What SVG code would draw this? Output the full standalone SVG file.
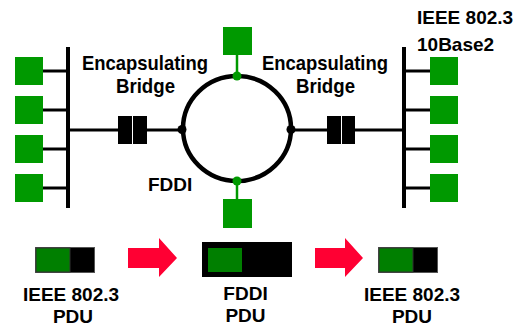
<svg xmlns="http://www.w3.org/2000/svg" width="525" height="326" viewBox="0 0 525 326">
<style>
.t{font-family:"Liberation Sans",Arial,sans-serif;font-weight:bold;font-size:19px;fill:#000}
.e{font-size:20.5px}
.m{text-anchor:middle}
.sq{fill:#009900}
.ln{stroke:#000;stroke-width:3;fill:none}
.bus{stroke:#000;stroke-width:4;fill:none}
.gs{stroke:#009900;stroke-width:2.5}
.br{fill:#000}
.pg{fill:#007f00;stroke:#333;stroke-width:1}
.ar{fill:#ff0033}
</style>
<rect width="525" height="326" fill="#fff"/>
<g id="connectors">
  <line class="bus" x1="68" y1="47" x2="68" y2="208"/>
  <line class="bus" x1="404" y1="47" x2="404" y2="208"/>
  <line class="ln" x1="43" y1="71" x2="68" y2="71"/>
  <line class="ln" x1="43" y1="110" x2="68" y2="110"/>
  <line class="ln" x1="43" y1="149" x2="68" y2="149"/>
  <line class="ln" x1="43" y1="188" x2="68" y2="188"/>
  <line class="ln" x1="404" y1="71" x2="430" y2="71"/>
  <line class="ln" x1="404" y1="110" x2="430" y2="110"/>
  <line class="ln" x1="404" y1="149" x2="430" y2="149"/>
  <line class="ln" x1="404" y1="188" x2="430" y2="188"/>
  <line class="ln" x1="68" y1="130" x2="118" y2="130"/>
  <line class="ln" x1="147" y1="130" x2="182" y2="130"/>
  <line class="ln" x1="291" y1="130" x2="327" y2="130"/>
  <line class="ln" x1="355" y1="130" x2="404" y2="130"/>
  <line class="gs" x1="237" y1="55" x2="237" y2="76"/>
  <line class="gs" x1="237" y1="181" x2="237" y2="199"/>
</g>
<g id="ring">
  <ellipse cx="237" cy="128.5" rx="54" ry="52.5" fill="none" stroke="#000" stroke-width="4.5"/>
  <circle cx="182" cy="129.5" r="4.5" fill="#000"/>
  <circle cx="291" cy="129.5" r="4.5" fill="#000"/>
  <circle cx="237" cy="76" r="4.5" fill="#009900"/>
  <circle cx="237" cy="181" r="4.5" fill="#009900"/>
  <text class="t" x="148" y="191">FDDI</text>
</g>
<g id="left-lan">
  <rect class="sq" x="15" y="57" width="28" height="28"/>
  <rect class="sq" x="15" y="96" width="28" height="28"/>
  <rect class="sq" x="15" y="135" width="28" height="28"/>
  <rect class="sq" x="15" y="174" width="28" height="28"/>
</g>
<g id="right-lan">
  <rect class="sq" x="430" y="57" width="28" height="28"/>
  <rect class="sq" x="430" y="96" width="28" height="28"/>
  <rect class="sq" x="430" y="135" width="28" height="28"/>
  <rect class="sq" x="430" y="174" width="28" height="28"/>
  <text class="t" x="417" y="23.5">IEEE 802.3</text>
  <text class="t" x="417" y="50.5">10Base2</text>
</g>
<g id="top-station"><rect class="sq" x="223" y="27" width="29" height="28"/></g>
<g id="bottom-station"><rect class="sq" x="223" y="199" width="29" height="29"/></g>
<g id="left-bridge">
  <rect class="br" x="118" y="116" width="14" height="28"/>
  <rect class="br" x="133" y="116" width="14" height="28"/>
  <text class="t e m" x="145" y="70" textLength="126" lengthAdjust="spacingAndGlyphs">Encapsulating</text>
  <text class="t e m" x="145.5" y="92.5" textLength="59" lengthAdjust="spacingAndGlyphs">Bridge</text>
</g>
<g id="right-bridge">
  <rect class="br" x="327" y="116" width="14" height="28"/>
  <rect class="br" x="342" y="116" width="13" height="28"/>
  <text class="t e m" x="325" y="70" textLength="126" lengthAdjust="spacingAndGlyphs">Encapsulating</text>
  <text class="t e m" x="325.5" y="92.5" textLength="59" lengthAdjust="spacingAndGlyphs">Bridge</text>
</g>
<g id="pdu-left">
  <rect x="35.5" y="247.5" width="59" height="25" fill="#000" stroke="#555" stroke-width="1"/>
  <rect class="pg" x="36" y="248" width="34" height="24"/>
  <text class="t m" x="71" y="301">IEEE 802.3</text>
  <text class="t m" x="73" y="323">PDU</text>
</g>
<g id="arrow-1"><polygon class="ar" points="128,248 159,248 159,238 177,258 159,277 159,268 128,268"/></g>
<g id="pdu-fddi">
  <rect x="202" y="242" width="90" height="35" fill="#000"/>
  <rect x="208" y="248" width="34" height="24" fill="#007f00"/>
  <text class="t m" x="245.5" y="300">FDDI</text>
  <text class="t m" x="245.5" y="322">PDU</text>
</g>
<g id="arrow-2"><polygon class="ar" points="315,248 345,248 345,238 363,258 345,277 345,268 315,268"/></g>
<g id="pdu-right">
  <rect x="378.5" y="247.5" width="59" height="25" fill="#000" stroke="#555" stroke-width="1"/>
  <rect class="pg" x="379" y="248" width="34" height="24"/>
  <text class="t m" x="412" y="301">IEEE 802.3</text>
  <text class="t m" x="412" y="323">PDU</text>
</g>
</svg>
